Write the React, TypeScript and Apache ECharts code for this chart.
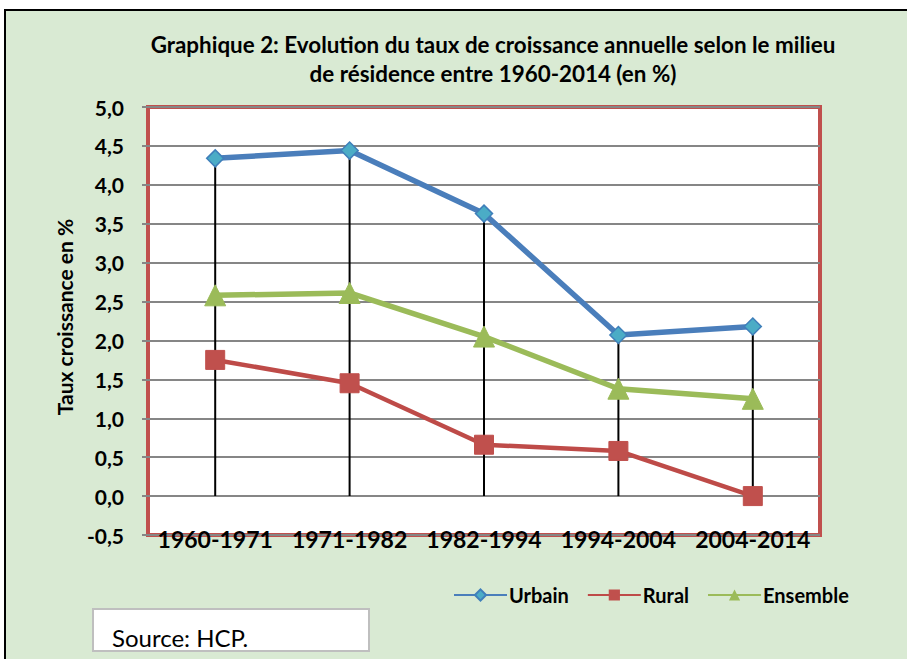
import React, { useEffect, useRef } from "react";
import * as echarts from "echarts";

const categories = ["1960-1971", "1971-1982", "1982-1994", "1994-2004", "2004-2014"];
const urbain = [4.34, 4.44, 3.63, 2.07, 2.18];
const rural = [1.75, 1.45, 0.66, 0.58, 0.0];
const ensemble = [2.58, 2.61, 2.05, 1.38, 1.25];
const seriesNames = ["Urbain", "Rural", "Ensemble"];
const titleLines = [
  "Graphique 2: Evolution du taux de croissance annuelle selon le milieu",
  "de résidence entre 1960-2014 (en %)",
];
const yAxisTitle = "Taux croissance en %";
const sourceText = "Source: HCP.";

const FONT = "Lato, 'Open Sans', sans-serif";

export default function App() {
  const ref = useRef<HTMLDivElement>(null);
  useEffect(() => {
    if (!ref.current) return;
    const chart = echarts.init(ref.current, undefined, { renderer: "svg" });
    const dropData = categories.map((c, i) => [i, Math.max(urbain[i], rural[i], ensemble[i])]);
    chart.setOption({
      animation: false,
      backgroundColor: "#ffffff",
      textStyle: { fontFamily: FONT },
      title: {
        text: titleLines.join("\n"),
        left: 488,
        top: 25,
        textAlign: "center",
        textStyle: { fontFamily: FONT, fontWeight: "bold", fontSize: 22.4, lineHeight: 29, color: "#000" },
      },
      legend: {
        data: seriesNames,
        left: 448,
        top: 580,
        itemWidth: 53,
        itemHeight: 14,
        itemGap: 18,
        textStyle: { fontFamily: FONT, fontWeight: "bold", fontSize: 20, color: "#000", padding: [0, 0, 0, -3] },
      },
      grid: {
        left: 148,
        top: 107,
        width: 672,
        height: 428,
        show: true,
        backgroundColor: "#ffffff",
        borderColor: "#C0504D",
        borderWidth: 4,
        z: 0,
      },
      xAxis: {
        type: "category",
        data: categories,
        boundaryGap: true,
        z: 6,
        axisLine: { show: false },
        axisTick: { show: false },
        axisLabel: { interval: 0, margin: -8, fontFamily: FONT, fontWeight: "bold", fontSize: 23, color: "#000" },
        splitLine: { show: false },
      },
      yAxis: {
        type: "value",
        min: -0.5,
        max: 5,
        interval: 0.5,
        z: 1,
        axisLine: { show: false },
        axisTick: { show: true, length: 6, lineStyle: { color: "#868686", width: 2 } },
        axisLabel: {
          margin: 24,
          fontFamily: FONT,
          fontWeight: "bold",
          fontSize: 21,
          color: "#000",
          formatter: (v: number) => v.toFixed(1).replace(".", ","),
        },
        splitLine: { show: true, lineStyle: { color: "#868686", width: 2 } },
      },
      graphic: [
        {
          type: "rect",
          z: -10,
          shape: { x: 5, y: 10, width: 920, height: 680 },
          style: { fill: "#D9EAD3", stroke: "#000", lineWidth: 2 },
        },
        {
          type: "text",
          x: 64,
          y: 317,
          rotation: Math.PI / 2,
          style: {
            text: yAxisTitle,
            fontFamily: FONT,
            fontWeight: "bold",
            fontSize: 21,
            fill: "#000",
            align: "center",
            verticalAlign: "middle",
          },
        },
        {
          type: "rect",
          shape: { x: 93, y: 609, width: 276, height: 42 },
          style: { fill: "#ffffff", stroke: "#BFBFBF", lineWidth: 2 },
        },
        {
          type: "text",
          x: 112,
          y: 637,
          style: {
            text: sourceText,
            fontFamily: FONT,
            fontSize: 24,
            fill: "#000",
            align: "left",
            verticalAlign: "middle",
          },
        },
      ],
      series: [
        {
          name: "drop",
          type: "custom",
          z: 2,
          silent: true,
          data: dropData,
          renderItem: (params: any, api: any) => {
            const top = api.coord([api.value(0), api.value(1)]);
            const bottom = api.coord([api.value(0), 0]);
            return {
              type: "line",
              shape: { x1: top[0], y1: top[1], x2: bottom[0], y2: bottom[1] },
              style: { stroke: "#000", lineWidth: 2 },
            };
          },
        },
        {
          name: "Urbain",
          type: "line",
          z: 5,
          data: urbain,
          symbol: "diamond",
          symbolSize: 17,
          lineStyle: { color: "#4A7EBB", width: 5.5 },
          itemStyle: { color: "#4BACC6", borderColor: "#3F7FBA", borderWidth: 1.5 },
          emphasis: { disabled: true },
        },
        {
          name: "Rural",
          type: "line",
          z: 4,
          data: rural,
          symbol: "rect",
          symbolSize: 19,
          lineStyle: { color: "#BE4B48", width: 4.5 },
          itemStyle: { color: "#C0504D", borderColor: "#C0504D" },
          emphasis: { disabled: true },
        },
        {
          name: "Ensemble",
          type: "line",
          z: 4,
          data: ensemble,
          symbol: "triangle",
          symbolSize: 21,
          lineStyle: { color: "#9BBB59", width: 5.5 },
          itemStyle: { color: "#9BBB59", borderColor: "#9BBB59" },
          emphasis: { disabled: true },
        },
      ],
    });
    return () => chart.dispose();
  }, []);
  return (
    <div
      ref={ref}
      style={{ position: "fixed", left: 0, top: 0, width: 907, height: 659 }}
    />
  );
}
